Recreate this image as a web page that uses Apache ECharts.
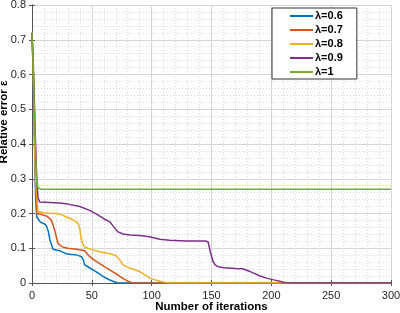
<!DOCTYPE html>
<html>
<head>
<meta charset="utf-8">
<script src="https://cdn.jsdelivr.net/npm/echarts@6/dist/echarts.min.js"></script>
<style>
  html, body { margin: 0; padding: 0; background: #fff; }
  #chart { width: 400px; height: 313px; }
</style>
</head>
<body>
<div id="chart"></div>
<script>
// [iteration, relative error]
const lam06 = [[0,0.72],[1,0.6],[2,0.42],[3,0.25],[4,0.19],[7,0.175],[10,0.171],[12,0.165],[13.5,0.15],[15,0.124],[17.6,0.097],[20,0.095],[23,0.093],[28.8,0.084],[33,0.082],[37,0.081],[41.3,0.076],[43,0.065],[44,0.052],[47,0.046],[51,0.038],[55,0.029],[59.4,0.019],[64,0.01],[69,0.003],[72,0],[300,0]];
const lam07 = [[0,0.72],[1,0.61],[2,0.45],[3,0.28],[4,0.2],[8,0.197],[12,0.193],[14,0.188],[16,0.181],[17.5,0.168],[19,0.152],[20.5,0.13],[21.8,0.114],[24,0.107],[26,0.103],[30,0.1],[37,0.097],[41,0.095],[44,0.093],[45.5,0.088],[46.8,0.081],[50,0.071],[53.8,0.062],[60,0.048],[65,0.038],[70,0.027],[73.3,0.019],[77,0.011],[80.3,0.005],[84,0],[300,0]];
const lam08 = [[0,0.72],[1,0.62],[2,0.46],[3,0.3],[5,0.205],[10,0.202],[15,0.201],[20.4,0.2],[25,0.196],[28.8,0.19],[33,0.184],[37,0.176],[39,0.168],[39.9,0.157],[41,0.13],[42.7,0.109],[44.5,0.103],[46.8,0.1],[50,0.096],[56.6,0.09],[65,0.084],[70.6,0.078],[73,0.068],[76,0.052],[81.7,0.043],[90,0.033],[95,0.022],[98.4,0.014],[103,0.009],[106.8,0.005],[111,0.002],[115,0],[300,0]];
const lam09 = [[0,0.72],[1,0.64],[2,0.52],[3,0.4],[4,0.3],[5,0.245],[6.4,0.233],[15,0.232],[23.2,0.23],[30,0.227],[40,0.22],[48.2,0.209],[55,0.196],[60,0.185],[65,0.176],[68,0.163],[71.9,0.147],[76,0.141],[81.7,0.138],[90,0.137],[98,0.133],[106.8,0.126],[115,0.123],[129,0.121],[140,0.121],[145,0.121],[147.2,0.118],[149,0.09],[151.3,0.062],[153,0.052],[155.5,0.047],[160,0.044],[170,0.042],[176,0.041],[180,0.036],[184.8,0.029],[190,0.021],[196,0.014],[202,0.009],[207,0.005],[212,0.001],[215,0],[300,0]];
const lam10 = [[0,0.72],[1,0.63],[2,0.5],[3,0.37],[4,0.29],[5,0.275],[7,0.27],[300,0.27]];

const names = ['λ=0.6', 'λ=0.7', 'λ=0.8', 'λ=0.9', 'λ=1'];
const colors = ['#0072BD', '#D95319', '#EDB120', '#7E2F8E', '#77AC30'];
const seriesData = [lam06, lam07, lam08, lam09, lam10];

const chart = echarts.init(document.getElementById('chart'));

const axisLine = { show: true, lineStyle: { color: '#555', width: 1 } };
const tick = { show: true, inside: true, length: 3, lineStyle: { color: '#555' } };
const major = { show: true, lineStyle: { color: '#d6d6d6', width: 1 } };
const minor = { show: true, lineStyle: { color: '#d9d9d9', width: 1, type: [1, 2] } };

chart.setOption({
  animation: false,
  color: colors,
  grid: { left: 32, right: 9, top: 5, bottom: 30, outerBoundsMode: 'none' },
  legend: {
    orient: 'vertical',
    left: 272,
    top: 8,
    icon: 'rect',
    itemWidth: 23,
    itemHeight: 2,
    itemGap: 2,
    padding: [2, 14, 1, 18],
    borderColor: '#333',
    borderWidth: 1,
    backgroundColor: '#fff',
    textStyle: { fontFamily: 'Liberation Sans', fontWeight: 'bold', fontSize: 11, color: '#000', lineHeight: 12, padding: [0, 0, 0, -3] },
    data: names
  },
  xAxis: [{
    type: 'value', min: 0, max: 300, interval: 50,
    axisLine, axisTick: tick, splitLine: major,
    minorTick: { show: false, splitNumber: 5 },
    minorSplitLine: minor,
    axisLabel: { fontFamily: 'Liberation Sans', fontSize: 11, color: '#262626', margin: 7 },
    name: 'Number of iterations', nameLocation: 'middle', nameGap: 18, nameMoveOverlap: false,
    nameTextStyle: { fontFamily: 'Liberation Sans', fontWeight: 'bold', fontSize: 11.5, color: '#000' }
  }, {
    type: 'value', min: 0, max: 300, interval: 50, position: 'top',
    axisLine, axisTick: tick, axisLabel: { show: false }, splitLine: { show: false }
  }],
  yAxis: [{
    type: 'value', min: 0, max: 0.8, interval: 0.1,
    axisLine, axisTick: tick, splitLine: major,
    minorTick: { show: false, splitNumber: 5 },
    minorSplitLine: minor,
    axisLabel: { fontFamily: 'Liberation Sans', fontSize: 11, color: '#262626', margin: 6 },
    name: 'Relative error ε', nameLocation: 'middle', nameGap: 22, nameMoveOverlap: false,
    nameTextStyle: { fontFamily: 'Liberation Sans', fontWeight: 'bold', fontSize: 11.5, color: '#000', padding: [0, 0, 0, 44] }
  }, {
    type: 'value', min: 0, max: 0.8, interval: 0.1, position: 'right',
    axisLine, axisTick: tick, axisLabel: { show: false }, splitLine: { show: false }
  }],
  series: seriesData.map((d, i) => ({
    name: names[i],
    type: 'line',
    data: d,
    symbol: 'none',
    lineStyle: { width: 1.5, color: colors[i] },
    itemStyle: { color: colors[i] }
  }))
});
</script>
</body>
</html>
